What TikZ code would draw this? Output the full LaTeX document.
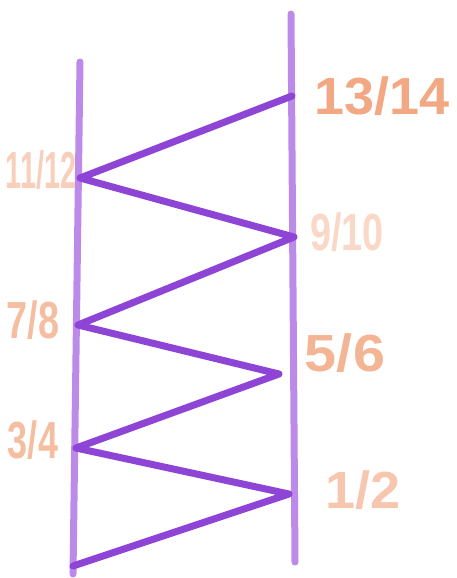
\documentclass[tikz,border=0pt]{standalone}
\usepackage{fontspec}
\usepackage{graphicx}
\setsansfont{Liberation Sans}
\usetikzlibrary{positioning}
\definecolor{railpurple}{HTML}{BC8AE8}
\definecolor{zigpurple}{HTML}{8E45D6}
\definecolor{chalkorange}{HTML}{F2A882}
\newcommand{\tallfrac}[2]{\scalebox{#1}[1.45]{#2}}
\tikzset{rail/.style={railpurple,line width=7pt,line cap=round},
  zig/.style={zigpurple,line width=7pt,line cap=round,line join=round},
  frac/.style={chalkorange,font=\sffamily\bfseries\fontsize{36}{36}\selectfont,inner sep=0pt}}

\begin{document}
\begin{tikzpicture}[x=1pt,y=-1pt]
  \useasboundingbox (0,0) rectangle (456,578);
  % rails
  \coordinate (lt) at (80,62); \coordinate (lb) at (73,574);
  \coordinate (rt) at (291,14); \coordinate (rb) at (295,562);
  \draw[rail] (lt) -- (lb);
  \draw[rail] (rt) -- (rb);
  % zigzag corners
  \coordinate (z0) at (73,566);
  \coordinate (z1) at (289,494);
  \coordinate (z2) at (76,448);
  \coordinate (z3) at (279,374);
  \coordinate (z4) at (78,325);
  \coordinate (z5) at (294,237);
  \coordinate (z6) at (80,178);
  \coordinate (z7) at (292,96);
  \draw[zig] (z0) -- (z1) -- (z2) -- (z3) -- (z4) -- (z5) -- (z6) -- (z7);
  % fractions
  \node[frac,opacity=0.65] (f1) at (363,490) {\tallfrac{1.5}{1/2}};
  \node[frac,opacity=0.75] (f2) at (33,440) {\tallfrac{1.0}{3/4}};
  \node[frac,opacity=0.85] (f3) at (345,353) {\tallfrac{1.6}{5/6}};
  \node[frac,opacity=0.75] (f4) at (33,320) {\tallfrac{1.05}{7/8}};
  \node[frac,opacity=0.45] (f5) at (347,232) {\tallfrac{1.05}{9/10}};
  \node[frac,opacity=0.55] (f6) at (41,170) {\tallfrac{0.8}{11/12}};
  \node[frac] (f7) at (382,96) {\tallfrac{1.5}{13/14}};
\end{tikzpicture}
\end{document}
